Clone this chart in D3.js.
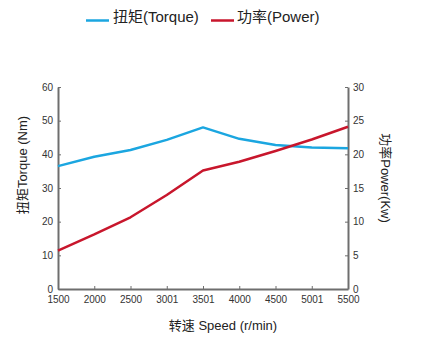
<!DOCTYPE html>
<html><head><meta charset="utf-8">
<script src="https://cdn.jsdelivr.net/npm/d3@7"></script>
<style>
body{margin:0;background:#fff;}
text{font-family:"Liberation Sans","Noto Sans CJK SC",sans-serif;}
</style></head>
<body>
<svg id="c" width="424" height="341"></svg>
<script>
const speeds = ["1500","2000","2500","3001","3501","4000","4500","5001","5500"];
const torque = [36.5, 39.3, 41.3, 44.3, 48.0, 44.6, 42.8, 42.0, 41.8];
const power  = [5.7, 8.1, 10.65, 13.96, 17.6, 18.9, 20.5, 22.2, 24.1];
const leftTicks = [0,10,20,30,40,50,60];
const rightTicks = [0,5,10,15,20,25,30];
const seriesNames = ["扭矩(Torque)", "功率(Power)"];
const colors = ["#1ba6e0", "#c8162c"];

const svg = d3.select("#c");
const m = {l:58, r:348, t:87, b:289};
const x = d3.scalePoint().domain(speeds).range([m.l, m.r]);
const yL = d3.scaleLinear().domain([0,60]).range([m.b, m.t]);
const yR = d3.scaleLinear().domain([0,30]).range([m.b, m.t]);
const axisColor = "#6e6e6e";

function styleAxis(g){
  g.select(".domain").attr("stroke", axisColor).attr("stroke-width", 2);
  g.selectAll(".tick line").attr("stroke", axisColor).attr("stroke-width",1);
  g.selectAll(".tick text").attr("fill","#333").attr("font-size", 10);
}
const gx = svg.append("g").attr("transform",`translate(0,${m.b})`)
  .call(d3.axisBottom(x).tickSizeInner(-3).tickSizeOuter(0).tickPadding(7));
styleAxis(gx);
const gl = svg.append("g").attr("transform",`translate(${m.l},0)`)
  .call(d3.axisLeft(yL).tickValues(leftTicks).tickSizeInner(-3).tickSizeOuter(0).tickPadding(5));
styleAxis(gl);
const gr = svg.append("g").attr("transform",`translate(${m.r},0)`)
  .call(d3.axisRight(yR).tickValues(rightTicks).tickSizeInner(-3).tickSizeOuter(0).tickPadding(5));
styleAxis(gr);

const lineL = d3.line().x((d,i)=>x(speeds[i])).y(d=>yL(d));
const lineR = d3.line().x((d,i)=>x(speeds[i])).y(d=>yR(d));
svg.append("path").attr("d", lineL(torque)).attr("fill","none").attr("stroke",colors[0]).attr("stroke-width",2.5).attr("stroke-linejoin","round");
svg.append("path").attr("d", lineR(power)).attr("fill","none").attr("stroke",colors[1]).attr("stroke-width",2.5).attr("stroke-linejoin","round");

// legend
const leg = [{x:86, tx:113}, {x:211, tx:237}];
leg.forEach((p,i)=>{
  svg.append("line").attr("x1",p.x).attr("x2",p.x+23).attr("y1",20.5).attr("y2",20.5)
    .attr("stroke",colors[i]).attr("stroke-width",2.5);
  svg.append("text").attr("x",p.tx).attr("y",18.5).attr("dominant-baseline","middle")
    .attr("font-size",15).attr("fill","#222").text(seriesNames[i]);
});

// axis titles
svg.append("text").attr("transform","translate(24,165) rotate(-90)").attr("text-anchor","middle")
  .attr("dominant-baseline","middle").attr("font-size",13).attr("fill","#222").text("扭矩Torque (Nm)");
svg.append("text").attr("transform","translate(384,178) rotate(90)").attr("text-anchor","middle")
  .attr("dominant-baseline","middle").attr("font-size",13).attr("fill","#222").text("功率Power(Kw)");
svg.append("text").attr("x",223).attr("y",327).attr("text-anchor","middle")
  .attr("dominant-baseline","middle").attr("font-size",13).attr("fill","#222").text("转速 Speed (r/min)");
</script>
</body></html>
